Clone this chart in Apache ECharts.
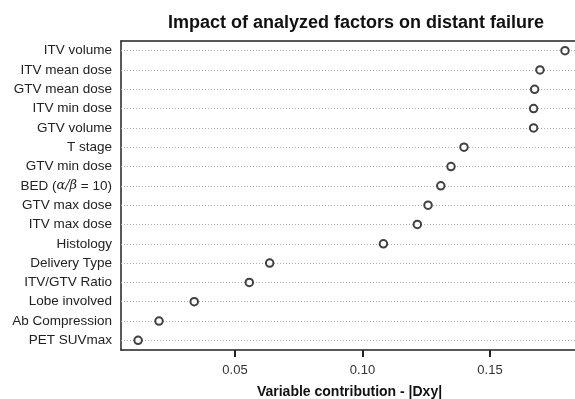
<!DOCTYPE html>
<html><head><meta charset="utf-8">
<script src="https://cdn.jsdelivr.net/npm/echarts@6/dist/echarts.min.js"></script>
<style>html,body{margin:0;padding:0;background:#fff}#c{width:575px;height:399px}</style>
</head><body><div id="c"></div>
<script>
const categories = ["ITV volume","ITV mean dose","GTV mean dose","ITV min dose","GTV volume","T stage","GTV min dose","BED (α/β = 10)","GTV max dose","ITV max dose","Histology","Delivery Type","ITV/GTV Ratio","Lobe involved","Ab Compression","PET SUVmax"];
const values = [0.1794,0.1696,0.1675,0.1671,0.1671,0.1398,0.1347,0.1307,0.1257,0.1215,0.1082,0.0636,0.0556,0.0340,0.0202,0.0120];
const tickValues = [0.05,0.10,0.15];
const title = "Impact of analyzed factors on distant failure";
const xName = "Variable contribution - |Dxy|";

const xMin = 0.00529, xMax = 0.18451;
const chart = echarts.init(document.getElementById('c'));
const font = 'Liberation Sans, Arial, sans-serif';
chart.setOption({
  animation:false,
  title:{text:title,left:351,top:9,textAlign:'center',textStyle:{fontFamily:font,fontSize:18,fontWeight:'bold',color:'#111'}},
  grid:{left:121,right:-3,top:41,bottom:49,show:false,containLabel:false,outerBoundsMode:'none'},
  xAxis:[{type:'value',min:xMin,max:xMax,
    axisLine:{show:true,lineStyle:{color:'#222',width:1.5}},
    axisTick:{show:true,customValues:tickValues,length:7,lineStyle:{color:'#222',width:2}},
    axisLabel:{customValues:tickValues,formatter:v=>v.toFixed(2),fontFamily:font,fontSize:13,color:'#333',margin:14},
    splitLine:{show:false},
    name:xName,nameLocation:'middle',nameGap:35,
    nameTextStyle:{fontFamily:font,fontSize:14,fontWeight:'bold',color:'#111'}},
   {type:'value',position:'top',min:xMin,max:xMax,
    axisLine:{show:true,onZero:false,lineStyle:{color:'#222',width:1.5}},
    axisTick:{show:false},axisLabel:{show:false},splitLine:{show:false}}],
  yAxis:{type:'category',data:categories,inverse:true,boundaryGap:true,
    axisLine:{show:true,lineStyle:{color:'#222',width:1.5}},
    axisTick:{show:false},
    axisLabel:{fontFamily:font,fontSize:13.5,color:'#222',margin:9,
      formatter:function(v){ if(v.indexOf('α')>=0){return 'BED ({m|α/β} = 10)';} return v; },
      rich:{m:{fontFamily:'DejaVu Serif, serif',fontStyle:'italic',fontSize:13,color:'#222'}}},
    splitLine:{show:false}},
  series:[{
    type:'scatter',
    data:values.map((v,i)=>[v,categories[i]]),
    symbol:'circle',symbolSize:7.5,
    itemStyle:{color:'#fff',borderColor:'#111',borderWidth:2},
    z:5,
    markLine:{silent:true,symbol:['none','none'],label:{show:false},
      lineStyle:{type:[1,2],color:'#aaa',width:1},
      data:categories.map(c=>[{coord:[xMin,c]},{coord:[xMax,c]}])}
  }]
});
</script></body></html>
